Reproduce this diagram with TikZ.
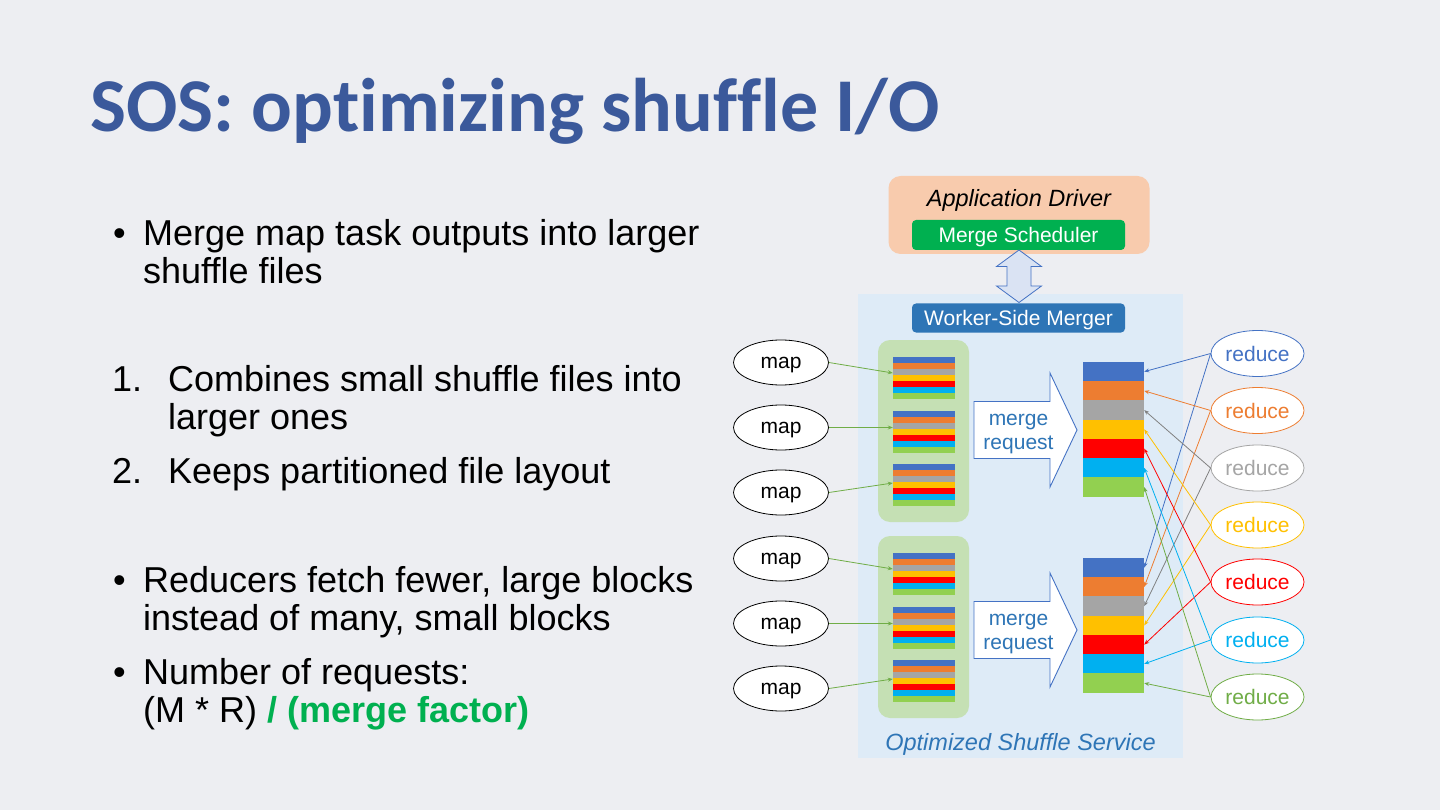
\documentclass[tikz,border=0pt]{standalone}
\usepackage{fontspec}
\setmainfont{Liberation Sans}
\newfontfamily\titlefont{Carlito}[Ligatures=NoCommon]
\usetikzlibrary{shapes.geometric,arrows.meta}
\definecolor{bgc}{RGB}{237,238,242}
\definecolor{titleblue}{RGB}{59,89,155}
\definecolor{svcblue}{RGB}{222,235,247}
\definecolor{peach}{RGB}{248,203,173}
\definecolor{mgreen}{RGB}{0,176,80}
\definecolor{wblue}{RGB}{46,117,182}
\definecolor{arrowfill}{RGB}{218,227,243}
\definecolor{cB}{RGB}{68,114,196}
\definecolor{cO}{RGB}{237,125,49}
\definecolor{cG}{RGB}{165,165,165}
\definecolor{cGd}{RGB}{128,128,128}
\definecolor{cY}{RGB}{255,192,0}
\definecolor{cR}{RGB}{255,0,0}
\definecolor{cC}{RGB}{0,176,240}
\definecolor{cL}{RGB}{146,208,80}
\definecolor{cLd}{RGB}{112,173,71}
\definecolor{panelg}{RGB}{197,224,180}
\begin{document}
\begin{tikzpicture}[x=1pt,y=-1pt,
  body/.style={anchor=base west,inner sep=0pt,font=\fontsize{36}{38}\selectfont},
  box/.style={inner sep=0pt,minimum width=213pt,text=white,text height=15pt,text depth=0pt,font=\fontsize{21}{25}\selectfont},
  mapnode/.style={ellipse,draw=black,fill=white,line width=0.8pt,minimum width=95pt,minimum height=45pt,inner sep=0pt,text depth=0pt,font=\fontsize{21}{25}\selectfont},
  rednode/.style={ellipse,draw=#1,fill=white,text=#1,line width=0.8pt,minimum width=93pt,minimum height=46pt,inner sep=0pt,font=\fontsize{21}{25}\selectfont},
  panel/.style={fill=panelg,rounded corners=12pt,minimum width=91pt,minimum height=182pt,inner sep=0pt},
  smallstack/.style={minimum width=62pt,minimum height=42pt,inner sep=0pt},
  bigstripe/.style={fill=#1,minimum width=61pt,minimum height=19.4pt,inner sep=0pt},
  conn/.style={draw=#1,line width=0.8pt,-{Stealth[length=5pt,width=4pt]}},
  mrtext/.style={anchor=base,inner sep=0pt,text=wblue,font=\fontsize{21}{25}\selectfont},
  bigarrow/.style={draw=cB,fill=white,line width=0.9pt,line join=miter}
]
\useasboundingbox (0,0) rectangle (1440,810);
\fill[bgc] (0,0) rectangle (1440,810);

% title
\node[anchor=base west,inner sep=0pt,text=titleblue,font=\titlefont\bfseries\fontsize{76}{80}\selectfont] (title) at (90,132) {SOS: optimizing shuffle I/O};

% left text
\node[body] (b1) at (113,245.5) {\textbullet};
\node[body] (t1a) at (143,245.5) {Merge map task outputs into larger};
\node[body] (t1b) at (143,283.5) {shuffle files};
\node[body] (n1) at (112,391) {1.};
\node[body] (t2a) at (168,391) {Combines small shuffle files into};
\node[body] (t2b) at (168,429) {larger ones};
\node[body] (n2) at (112,483) {2.};
\node[body] (t3) at (168,483) {Keeps partitioned file layout};
\node[body] (b2) at (113,592) {\textbullet};
\node[body] (t4a) at (143,592) {Reducers fetch fewer, large blocks};
\node[body] (t4b) at (143,630) {instead of many, small blocks};
\node[body] (b3) at (113,684) {\textbullet};
\node[body] (t5a) at (143,684) {Number of requests:};
\node[body] (t5b) at (143,722.5) {(M * R) \textcolor{mgreen}{\bfseries / (merge factor)}};

% service region
\fill[svcblue] (858,294) rectangle (1183,758);

% application driver
\node[fill=peach,rounded corners=12pt,minimum width=261pt,minimum height=78pt,inner sep=0pt] (driver) at (1019,215) {};
\node[anchor=base,inner sep=0pt,font=\itshape\fontsize{23.5}{26}\selectfont] (drivertxt) at (1019,206.5) {Application Driver};
\node[box,fill=mgreen,rounded corners=4pt,minimum height=30pt] (sched) at (1018.5,235) {Merge Scheduler};

% double arrow
\draw[fill=arrowfill,draw=cB,line width=0.8pt,line join=miter]
  (1019,250) -- (1041.5,266.5) -- (1031,266.5) -- (1031,286) -- (1041.5,286) -- (1019,302.5)
  -- (996.5,286) -- (1007,286) -- (1007,266.5) -- (996.5,266.5) -- cycle;

\node[box,fill=wblue,rounded corners=4pt,minimum height=29pt] (worker) at (1018.5,318) {Worker-Side Merger};

% panels
\node[panel] (p1) at (923.5,431) {};
\node[panel] (p2) at (923.5,627) {};

% small stacks
\foreach \k/\t in {1/357,2/410.5,3/464,4/553,5/606.5,6/660}{
  \node[smallstack] (s\k) at (924,{\t+21}) {};
  \foreach \i/\c in {0/cB,1/cO,2/cG,3/cY,4/cR,5/cC,6/cL}{
    \fill[\c] (893,{\t+6*\i}) rectangle (955,{\t+6*\i+6.2});
  }
}

% maps
\node[mapnode] (m1) at (781,362.5) {map};
\node[mapnode] (m2) at (781,427.5) {map};
\node[mapnode] (m3) at (781,492.5) {map};
\node[mapnode] (m4) at (781,558.5) {map};
\node[mapnode] (m5) at (781,623.5) {map};
\node[mapnode] (m6) at (781,688.5) {map};
\draw[conn=cLd] (m1.east) -- ([yshift=5pt]s1.west);
\draw[conn=cLd] (m2.east) -- ([yshift=4pt]s2.west);
\draw[conn=cLd] (m3.east) -- ([yshift=2pt]s3.west);
\draw[conn=cLd] (m4.east) -- ([yshift=5pt]s4.west);
\draw[conn=cLd] (m5.east) -- ([yshift=4pt]s5.west);
\draw[conn=cLd] (m6.east) -- ([yshift=2pt]s6.west);

% merge request arrows
\draw[bigarrow] (974,401.5) -- (1050,401.5) -- (1050,373) -- (1077,430) -- (1050,487) -- (1050,458.5) -- (974,458.5) -- cycle;
\draw[bigarrow] (974,601.5) -- (1050,601.5) -- (1050,573) -- (1077,630) -- (1050,687) -- (1050,658.5) -- (974,658.5) -- cycle;
\node[mrtext] (mr1a) at (1018.5,425) {merge};
\node[mrtext] (mr1b) at (1018.5,449) {request};
\node[mrtext] (mr2a) at (1018.5,625) {merge};
\node[mrtext] (mr2b) at (1018.5,649) {request};

% big stacks
\foreach \i/\c in {1/cB,2/cO,3/cG,4/cY,5/cR,6/cC,7/cL}{
  \node[bigstripe=\c] (T\i) at (1113.5,{362+19.25*(\i-1)+9.625}) {};
  \node[bigstripe=\c] (B\i) at (1113.5,{558+19.25*(\i-1)+9.625}) {};
}

% reduces
\foreach \i/\c/\lc/\y in {1/cB/cB/353.5,2/cO/cO/410.5,3/cG/cGd/468,4/cY/cY/525,5/cR/cR/582,6/cC/cC/640,7/cLd/cLd/697}{
  \node[rednode=\c] (r\i) at (1257.5,\y) {reduce};
  \draw[conn=\lc] (r\i.west) -- (T\i.east);
  \draw[conn=\lc] (r\i.west) -- (B\i.east);
}

\node[anchor=base,inner sep=0pt,text=wblue,font=\itshape\fontsize{23.5}{26}\selectfont] (svc) at (1020.5,750) {Optimized Shuffle Service};
\end{tikzpicture}
\end{document}
